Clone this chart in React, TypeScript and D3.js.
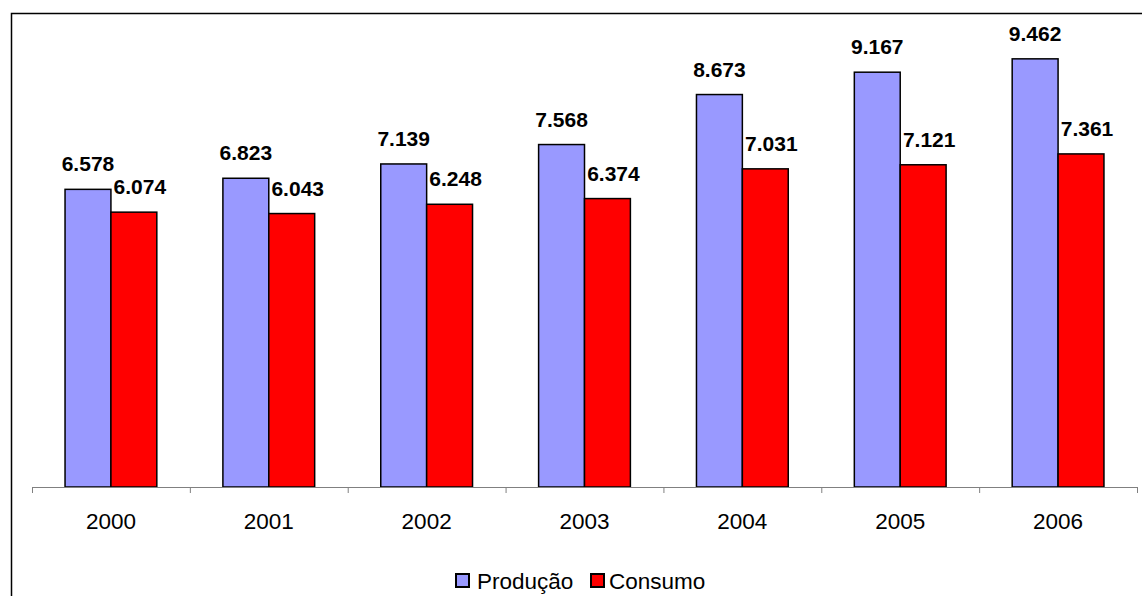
import React from "react";
import * as d3 from "d3";

const years = ["2000", "2001", "2002", "2003", "2004", "2005", "2006"];
const producao = [6.578, 6.823, 7.139, 7.568, 8.673, 9.167, 9.462];
const consumo = [6.074, 6.043, 6.248, 6.374, 7.031, 7.121, 7.361];
const seriesNames = ["Produção", "Consumo"];
const seriesColors = ["#9999FF", "#FF0000"];

const W = 1142;
const H = 596;
const FONT = "'Liberation Sans', Arial, sans-serif";

const fmt = (v: number) => v.toFixed(3);

export default function App() {
  const x = d3.scaleBand<string>().domain(years).range([32, 1137]).padding(0);
  const bw = x.bandwidth();
  const inner = d3
    .scaleBand<string>()
    .domain(seriesNames)
    .range([0, bw])
    .paddingInner(0)
    .paddingOuter(0.72);
  const y = d3.scaleLinear().domain([0, 10]).range([487, 34.5]);
  const series = [producao, consumo];
  const labelShift = [0, 6];
  const ticks = [...years.map((yr) => x(yr) as number), 1137];

  return (
    <svg
      width={W}
      height={H}
      style={{ position: "absolute", left: 0, top: 0, background: "#fff" }}
      fontFamily={FONT}
    >
      <rect x={0} y={0} width={W} height={H} fill="#fff" />
      <path d={`M11.5,${H} V13.5 H${W}`} fill="none" stroke="#000" strokeWidth={1.5} />
      {years.map((yr, i) => (
        <g key={yr}>
          {series.map((vals, s) => {
            const bx = (x(yr) as number) + (inner(seriesNames[s]) as number);
            const by = y(vals[i]);
            return (
              <g key={s}>
                <rect
                  x={bx}
                  y={by}
                  width={inner.bandwidth()}
                  height={y(0) - by}
                  fill={seriesColors[s]}
                  stroke="#000"
                  strokeWidth={1.5}
                />
                <text
                  x={bx + inner.bandwidth() / 2 + labelShift[s]}
                  y={by - 18}
                  textAnchor="middle"
                  fontWeight="bold"
                  fontSize={21}
                  fill="#000"
                >
                  {fmt(vals[i])}
                </text>
              </g>
            );
          })}
          <text
            x={(x(yr) as number) + bw / 2}
            y={529}
            textAnchor="middle"
            fontSize={22.5}
            fill="#000"
          >
            {yr}
          </text>
        </g>
      ))}
      <line x1={32} x2={1137} y1={487.5} y2={487.5} stroke="#808080" strokeWidth={1} />
      {ticks.map((t, i) => (
        <line key={i} x1={t + 0.5} x2={t + 0.5} y1={487} y2={493} stroke="#808080" strokeWidth={1} />
      ))}
      <g>
        <rect x={456} y={574} width={13} height={13} fill={seriesColors[0]} stroke="#000" strokeWidth={2} />
        <text x={477} y={589} fontSize={22.5} fill="#000">{seriesNames[0]}</text>
        <rect x={591} y={574} width={13} height={13} fill={seriesColors[1]} stroke="#000" strokeWidth={2} />
        <text x={609} y={589} fontSize={22.5} fill="#000">{seriesNames[1]}</text>
      </g>
    </svg>
  );
}
